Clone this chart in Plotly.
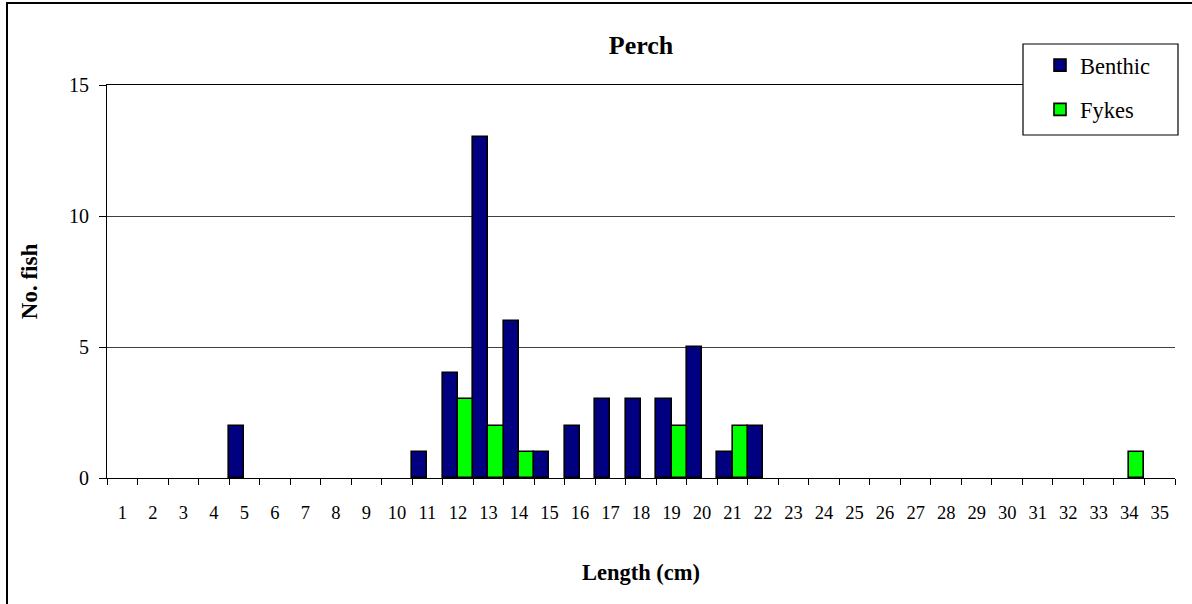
import plotly.graph_objects as go

# Data
lengths = [str(i) for i in range(1, 36)]
benthic = [0, 0, 0, 0, 2, 0, 0, 0, 0, 0, 1, 4, 13, 6, 1, 2, 3, 3, 3, 5, 1, 2,
           0, 0, 0, 0, 0, 0, 0, 0, 0, 0, 0, 0, 0]
fykes = [0, 0, 0, 0, 0, 0, 0, 0, 0, 0, 0, 3, 2, 1, 0, 0, 0, 0, 2, 0, 2, 0,
         0, 0, 0, 0, 0, 0, 0, 0, 0, 0, 0, 1, 0]
y_ticks = [0, 5, 10, 15]

FONT = "Liberation Serif, Times New Roman, serif"


def nz(vals):
    # empty categories draw no bar (avoids outlined zero-height bars)
    return [v if v else None for v in vals]


fig = go.Figure()
fig.add_trace(go.Bar(x=lengths, y=nz(benthic), name="Benthic", legendgroup="b",
                     marker=dict(color="#000080", line=dict(color="black", width=1.6))))
fig.add_trace(go.Bar(x=lengths, y=nz(fykes), name="Fykes", legendgroup="f",
                     marker=dict(color="#00FF00", line=dict(color="black", width=1.6))))

W, H = 1192, 604
L, R, T, B = 107, 17, 85, 126
pw, ph = W - L - R, H - T - B


def px(x):
    return (x - L) / pw


def py(y):
    return (H - B - y) / ph


fig.update_layout(
    width=W, height=H,
    margin=dict(l=L, r=R, t=T, b=B, autoexpand=False),
    paper_bgcolor="white", plot_bgcolor="white",
    font=dict(family=FONT, color="black", size=19),
    barmode="group", bargap=0, bargroupgap=0,
    title=dict(text="<b>Perch</b>", x=0.5, xref="paper", xanchor="center",
               y=1 - 45 / H, yanchor="middle", font=dict(size=26, family=FONT)),
    xaxis=dict(type="category", tickson="boundaries", ticks="outside", ticklen=6,
               tickcolor="black", showline=True, mirror=True, linecolor="black", linewidth=1,
               showgrid=False, tickfont=dict(size=18.5), ticklabelstandoff=18,
               range=[-0.5, 34.5],
               title=dict(text="<b>Length (cm)</b>", font=dict(size=22.5), standoff=42)),
    yaxis=dict(range=[0, 15], tickvals=y_ticks, ticks="outside", ticklen=7,
               tickcolor="black", showline=True, linecolor="black", linewidth=1,
               showgrid=True, gridcolor="#404040", gridwidth=1, zeroline=False,
               tickfont=dict(size=20), ticklabelstandoff=6,
               title=dict(text="<b>No. fish</b>", font=dict(size=23), standoff=24)),
    legend=dict(x=px(1023), y=py(44), xanchor="left", yanchor="top",
                bgcolor="rgba(0,0,0,0)", borderwidth=0,
                font=dict(size=22.5, family=FONT), tracegroupgap=12,
                traceorder="grouped", indentation=17),
    showlegend=True,
)

# outer chart border
fig.add_shape(type="rect", xref="paper", yref="paper",
              x0=px(7), x1=px(W + 10), y0=py(H + 10), y1=py(3),
              line=dict(color="black", width=2), fillcolor="rgba(0,0,0,0)", layer="below")
# legend frame
fig.add_shape(type="rect", xref="paper", yref="paper",
              x0=px(1023), x1=px(1178), y0=py(135), y1=py(44),
              line=dict(color="black", width=1.2), fillcolor="white", layer="above")

fig.write_html("out.html", config={"displayModeBar": False},
               post_script="document.body.style.margin='0px';")
